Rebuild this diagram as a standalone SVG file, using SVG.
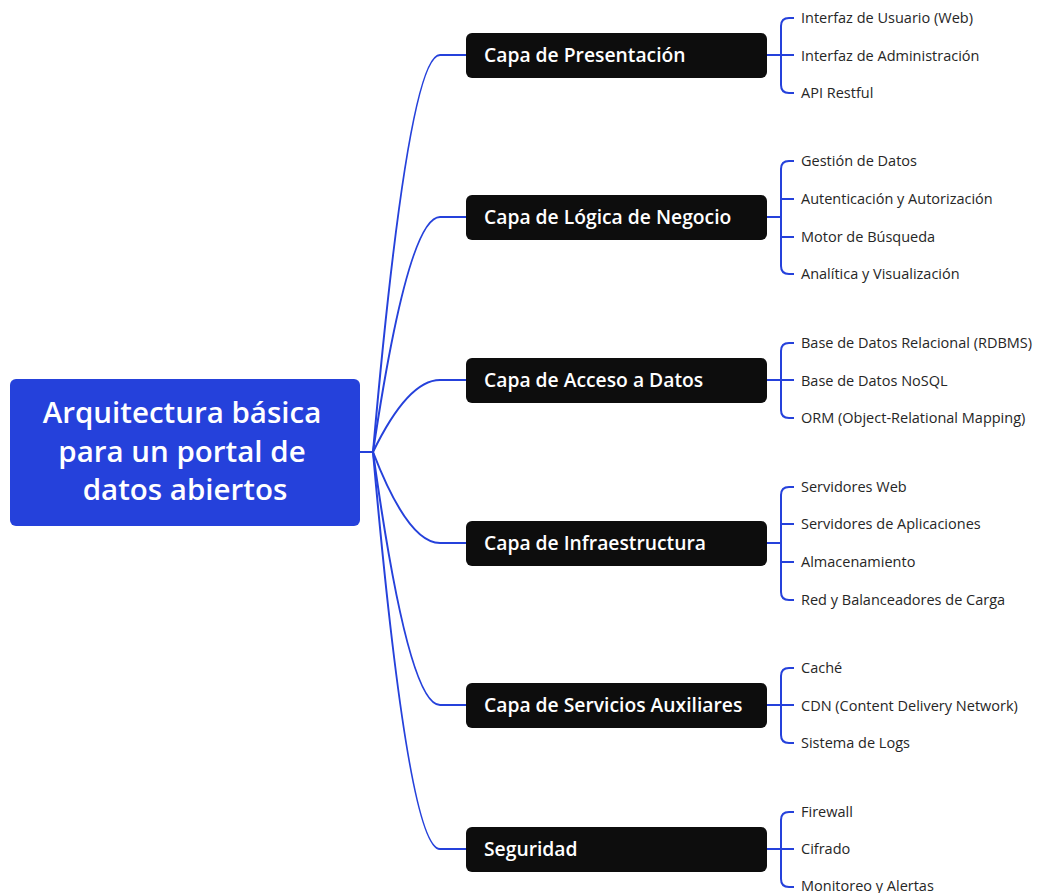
<svg xmlns="http://www.w3.org/2000/svg" width="1039" height="893" viewBox="0 0 1039 893">
<style>
.root{fill:#2541DB}
.rt{fill:#fff;font-family:"Open Sans","Noto Sans",sans-serif;font-size:29.5px;font-weight:600;text-anchor:middle}
.br{fill:#0d0d0d}
.bt{fill:#fff;font-family:"Open Sans","Noto Sans",sans-serif;font-size:19.3px;font-weight:600}
.lt{fill:#262626;font-family:"Open Sans","Noto Sans",sans-serif;font-size:14.5px}
.c{fill:none;stroke:#2541DB;stroke-width:2}
</style>
<rect width="1039" height="893" fill="#fff"/>
<g id="connectors">
<path class="c" d="M360 452H373"/>
<path class="c" d="M373 452Q408 55 440 55H466"/>
<path class="c" d="M373 452Q408 217 440 217H466"/>
<path class="c" d="M373 452Q408 380 440 380H466"/>
<path class="c" d="M373 452Q408 543 440 543H466"/>
<path class="c" d="M373 452Q408 705 440 705H466"/>
<path class="c" d="M373 452Q408 849 440 849H466"/>
<path class="c" d="M767 55H794M794 18H789Q781 18 781 26V85Q781 93 789 93H794"/>
<path class="c" d="M767 217H781M781 199H794M781 237H794M794 161H789Q781 161 781 169V266Q781 274 789 274H794"/>
<path class="c" d="M767 380H794M794 343H789Q781 343 781 351V410Q781 418 789 418H794"/>
<path class="c" d="M767 543H781M781 524H794M781 562H794M794 487H789Q781 487 781 495V592Q781 600 789 600H794"/>
<path class="c" d="M767 705H794M794 668H789Q781 668 781 676V735Q781 743 789 743H794"/>
<path class="c" d="M767 849H794M794 812H789Q781 812 781 820V879Q781 887 789 887H794"/>
</g>
<g id="root"><rect class="root" x="10" y="379" width="350" height="147" rx="6"/>
<text class="rt" x="182" y="423">Arquitectura básica</text>
<text class="rt" x="182" y="462">para un portal de</text>
<text class="rt" x="185" y="500">datos abiertos</text></g>
<g id="b1"><rect class="br" x="466" y="33" width="301" height="45" rx="6"/><text class="bt" x="484" y="62">Capa de Presentación</text></g>
<g id="b2"><rect class="br" x="466" y="195" width="301" height="45" rx="6"/><text class="bt" x="484" y="224">Capa de Lógica de Negocio</text></g>
<g id="b3"><rect class="br" x="466" y="358" width="301" height="45" rx="6"/><text class="bt" x="484" y="387">Capa de Acceso a Datos</text></g>
<g id="b4"><rect class="br" x="466" y="521" width="301" height="45" rx="6"/><text class="bt" x="484" y="550">Capa de Infraestructura</text></g>
<g id="b5"><rect class="br" x="466" y="683" width="301" height="45" rx="6"/><text class="bt" x="484" y="712">Capa de Servicios Auxiliares</text></g>
<g id="b6"><rect class="br" x="466" y="827" width="301" height="45" rx="6"/><text class="bt" x="484" y="856">Seguridad</text></g>
<g id="leaves">
<text class="lt" x="801" y="23">Interfaz de Usuario (Web)</text>
<text class="lt" x="801" y="61">Interfaz de Administración</text>
<text class="lt" x="801" y="98">API Restful</text>
<text class="lt" x="801" y="166">Gestión de Datos</text>
<text class="lt" x="801" y="204">Autenticación y Autorización</text>
<text class="lt" x="801" y="242">Motor de Búsqueda</text>
<text class="lt" x="801" y="279">Analítica y Visualización</text>
<text class="lt" x="801" y="348">Base de Datos Relacional (RDBMS)</text>
<text class="lt" x="801" y="386">Base de Datos NoSQL</text>
<text class="lt" x="801" y="423">ORM (Object-Relational Mapping)</text>
<text class="lt" x="801" y="492">Servidores Web</text>
<text class="lt" x="801" y="529">Servidores de Aplicaciones</text>
<text class="lt" x="801" y="567">Almacenamiento</text>
<text class="lt" x="801" y="605">Red y Balanceadores de Carga</text>
<text class="lt" x="801" y="673">Caché</text>
<text class="lt" x="801" y="711">CDN (Content Delivery Network)</text>
<text class="lt" x="801" y="748">Sistema de Logs</text>
<text class="lt" x="801" y="817">Firewall</text>
<text class="lt" x="801" y="854">Cifrado</text>
<text class="lt" x="801" y="891">Monitoreo y Alertas</text>
</g>
</svg>
